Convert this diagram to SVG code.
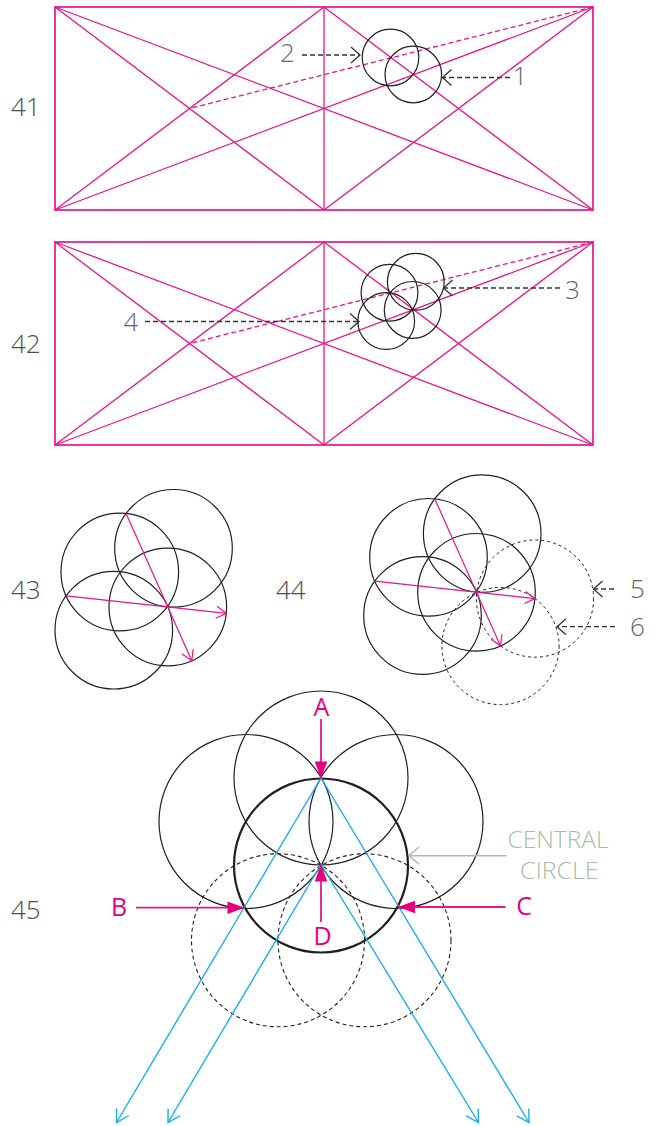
<svg xmlns="http://www.w3.org/2000/svg" width="657" height="1126" viewBox="0 0 657 1126">
<style>
.bg{fill:#ffffff}
.pk{stroke:#e6158c;stroke-width:1.3;fill:none}
.pkr{stroke:#e6158c;stroke-width:1.7;fill:none}
.pkd{stroke:#e6158c;stroke-width:1.3;fill:none;stroke-dasharray:5 3}
.ci{stroke:#231f20;stroke-width:1.2;fill:none}
.cib{stroke:#231f20;stroke-width:2.2;fill:none}
.cid{stroke:#231f20;stroke-width:1;fill:none;stroke-dasharray:3 3}
.cid2{stroke:#231f20;stroke-width:1.1;fill:none;stroke-dasharray:4 3}
.call{stroke:#333333;stroke-width:1.3;fill:none;stroke-dasharray:5 3}
.pka{stroke:#e6158c;stroke-width:1.2;fill:none}
.pkb{stroke:#e6158c;stroke-width:1.8;fill:none}
.bl{stroke:#1badea;stroke-width:1.4;fill:none}
.gg{stroke:#a9bba9;stroke-width:1.5;fill:none}
.num{font-family:"Open Sans","Liberation Sans",sans-serif;font-size:26px;font-weight:300;fill:#4d4d4d}
.lab{font-family:"Open Sans","Liberation Sans",sans-serif;font-size:26px;font-weight:300;fill:#666666;text-anchor:middle}
.let{font-family:"Open Sans","Liberation Sans",sans-serif;font-size:25px;font-weight:400;fill:#e6007e;text-anchor:middle}
.cc{font-family:"Open Sans","Liberation Sans",sans-serif;font-size:23px;font-weight:300;fill:#a9bba9}
</style>
<defs>
<marker id="chevK" markerUnits="userSpaceOnUse" markerWidth="20" markerHeight="20" orient="auto" refX="0" refY="0" style="overflow:visible">
<path d="M-9,-8 L0,0 L-9,8" fill="none" stroke="#333333" stroke-width="1.3" stroke-dasharray="none"/>
</marker>
<marker id="chevP" markerUnits="userSpaceOnUse" markerWidth="20" markerHeight="20" orient="auto" refX="0" refY="0" style="overflow:visible">
<path d="M-10,-6 L0,0 L-10,6" fill="none" stroke="#e6158c" stroke-width="1.2"/>
</marker>
<marker id="chevB" markerUnits="userSpaceOnUse" markerWidth="20" markerHeight="20" orient="auto" refX="0" refY="0" style="overflow:visible">
<path d="M-12,-7 L0,0 L-12,7" fill="none" stroke="#1badea" stroke-width="1.4"/>
</marker>
<marker id="chevG" markerUnits="userSpaceOnUse" markerWidth="20" markerHeight="20" orient="auto" refX="0" refY="0" style="overflow:visible">
<path d="M-10,-8.5 L0,0 L-10,8.5" fill="none" stroke="#a9bba9" stroke-width="1.5"/>
</marker>
<marker id="triP" markerUnits="userSpaceOnUse" markerWidth="20" markerHeight="20" orient="auto" refX="0" refY="0" style="overflow:visible">
<path d="M-17,-6.3 L0,0 L-17,6.3 Z" fill="#e6007e" stroke="none"/>
</marker>
</defs>
<rect class="bg" x="0" y="0" width="657" height="1126"/>

<g id="fig41">
<rect class="pkr" x="55" y="7" width="538" height="203"/>
<line class="pk" x1="324" y1="7" x2="324" y2="210"/>
<line class="pk" x1="55" y1="7" x2="593" y2="210"/>
<line class="pk" x1="55" y1="210" x2="593" y2="7"/>
<line class="pk" x1="55" y1="7" x2="324" y2="210"/>
<line class="pk" x1="55" y1="210" x2="324" y2="7"/>
<line class="pk" x1="324" y1="7" x2="593" y2="210"/>
<line class="pk" x1="324" y1="210" x2="593" y2="7"/>
<line class="pkd" x1="593" y1="7" x2="189.5" y2="108.5"/>
<circle class="ci" cx="390.5" cy="57.5" r="28.3"/>
<circle class="ci" cx="413.3" cy="74.5" r="28.3"/>
<text class="num" x="11" y="116">41</text>
</g>

<g id="fig42">
<rect class="pkr" x="55" y="242" width="538" height="203"/>
<line class="pk" x1="324" y1="242" x2="324" y2="445"/>
<line class="pk" x1="55" y1="242" x2="593" y2="445"/>
<line class="pk" x1="55" y1="445" x2="593" y2="242"/>
<line class="pk" x1="55" y1="242" x2="324" y2="445"/>
<line class="pk" x1="55" y1="445" x2="324" y2="242"/>
<line class="pk" x1="324" y1="242" x2="593" y2="445"/>
<line class="pk" x1="324" y1="445" x2="593" y2="242"/>
<line class="pkd" x1="593" y1="242" x2="189.5" y2="343.5"/>
<circle class="ci" cx="389.5" cy="292.7" r="28.4"/>
<circle class="ci" cx="412.7" cy="309.9" r="28.4"/>
<circle class="ci" cx="415.8" cy="281.8" r="28.4"/>
<circle class="ci" cx="386.2" cy="321" r="28.4"/>
<text class="num" x="11" y="352.5">42</text>
</g>

<g id="fig43">
<circle class="ci" cx="119.8" cy="572" r="58.8"/>
<circle class="ci" cx="173.5" cy="548.3" r="58.8"/>
<circle class="ci" cx="113.8" cy="630.2" r="58.8"/>
<circle class="ci" cx="167.8" cy="607" r="58.8"/>
<text class="num" x="11" y="599">43</text>
</g>

<g id="fig44">
<circle class="ci" cx="428.5" cy="557.3" r="58.8"/>
<circle class="ci" cx="482.2" cy="533.6" r="58.8"/>
<circle class="ci" cx="422.5" cy="615.5" r="58.8"/>
<circle class="ci" cx="476.5" cy="592.3" r="58.8"/>
<circle class="cid" cx="535" cy="598.6" r="58.6"/>
<circle class="cid" cx="500.5" cy="646" r="58.6"/>
<text class="num" x="276" y="599">44</text>
</g>

<g id="fig45">
<circle class="ci" cx="321" cy="778" r="87"/>
<circle class="ci" cx="246" cy="821.5" r="87"/>
<circle class="ci" cx="396" cy="821.5" r="87"/>
<circle class="cib" cx="321" cy="865.5" r="87"/>
<circle class="cid2" cx="278" cy="940.3" r="86.5"/>
<circle class="cid2" cx="364.5" cy="940.3" r="86.5"/>
<text class="num" x="11" y="919">45</text>
<text class="let" x="321.5" y="716">A</text>
<text class="let" x="119" y="916">B</text>
<text class="let" x="524" y="915">C</text>
<text class="let" x="322.5" y="945">D</text>
<text class="cc" x="507.5" y="848" textLength="101" lengthAdjust="spacingAndGlyphs">CENTRAL</text>
<text class="cc" x="520" y="879" textLength="78.5" lengthAdjust="spacingAndGlyphs">CIRCLE</text>
</g>

<g id="labels">
<text class="lab" x="287.5" y="62">2</text>
<text class="lab" x="520" y="85">1</text>
<text class="lab" x="572.5" y="299">3</text>
<text class="lab" x="131" y="331">4</text>
<text class="lab" x="637.5" y="598">5</text>
<text class="lab" x="637.5" y="636">6</text>
</g>

<g id="connectors">
<line class="call" x1="302" y1="55" x2="360" y2="55" marker-end="url(#chevK)"/>
<line class="call" x1="510" y1="77.5" x2="442.5" y2="77.5" marker-end="url(#chevK)"/>
<line class="call" x1="560" y1="288" x2="443.5" y2="288" marker-end="url(#chevK)"/>
<line class="call" x1="145" y1="321.5" x2="359" y2="321.5" marker-end="url(#chevK)"/>
<line class="call" x1="614" y1="589" x2="593.5" y2="589" marker-end="url(#chevK)"/>
<line class="call" x1="615" y1="626.7" x2="557" y2="626.7" marker-end="url(#chevK)"/>

<line class="pka" x1="66.4" y1="595.9" x2="226.3" y2="613.3" marker-end="url(#chevP)"/>
<line class="pka" x1="126.1" y1="513.6" x2="191.8" y2="660.7" marker-end="url(#chevP)"/>
<line class="pka" x1="375.1" y1="581.2" x2="535" y2="598.6" marker-end="url(#chevP)"/>
<line class="pka" x1="434.8" y1="498.9" x2="500.5" y2="646" marker-end="url(#chevP)"/>

<line class="bl" x1="321" y1="778" x2="116.5" y2="1122.5" marker-end="url(#chevB)"/>
<line class="bl" x1="321" y1="864.5" x2="168" y2="1122.5" marker-end="url(#chevB)"/>
<line class="bl" x1="321" y1="864.5" x2="478.5" y2="1122.5" marker-end="url(#chevB)"/>
<line class="bl" x1="321" y1="778" x2="529" y2="1122.5" marker-end="url(#chevB)"/>

<line class="pkb" x1="321" y1="719" x2="321" y2="778.5" marker-end="url(#triP)"/>
<line class="pkb" x1="136" y1="907.7" x2="244.5" y2="907.7" marker-end="url(#triP)"/>
<line class="pkb" x1="505.5" y1="907" x2="398" y2="907" marker-end="url(#triP)"/>
<line class="pkb" x1="321" y1="922" x2="321" y2="864.5" marker-end="url(#triP)"/>

<line class="gg" x1="506.5" y1="855.7" x2="409" y2="855.7" marker-end="url(#chevG)"/>
</g>
</svg>
